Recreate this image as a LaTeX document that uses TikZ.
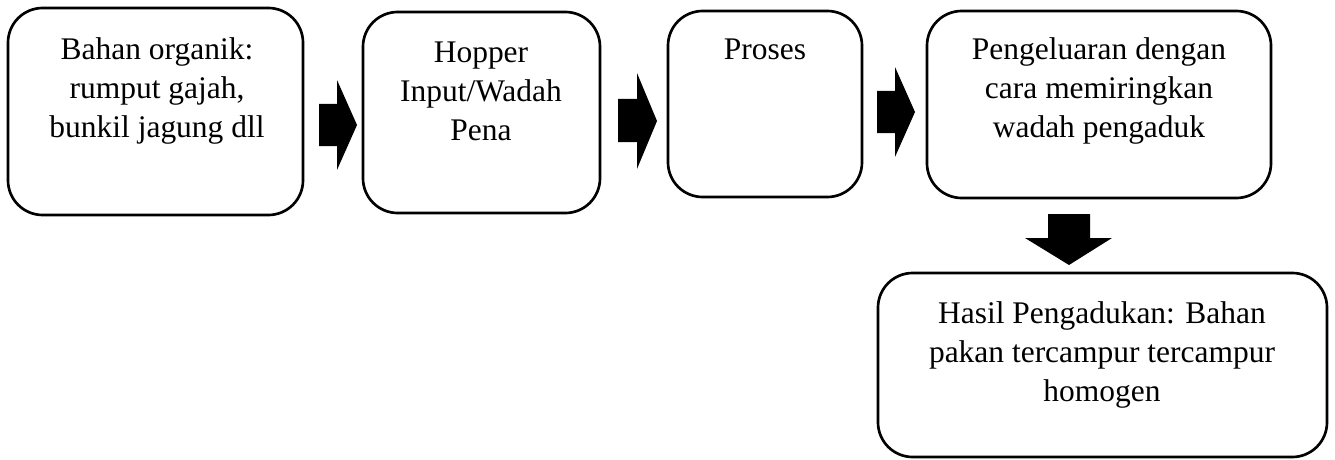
\documentclass[tikz,border=0pt]{standalone}
\usepackage{fontspec}
\setmainfont{Liberation Serif}
\usetikzlibrary{fit}
\begin{document}
\begin{tikzpicture}[x=0.75pt,y=-0.75pt,
  box/.style={draw=black, line width=2pt, rounded corners=26pt, inner sep=0pt},
  txt/.style={font=\fontsize{23.6pt}{29.25pt}\selectfont, align=flush center, anchor=base, inner sep=0pt, text width=330pt},
  barrow/.style={fill=black, draw=none}]
\useasboundingbox (0,0) rectangle (1335,460);
% boxes
\node[box, fit={(8,8) (303,215)}] (b1) {};
\node[box, fit={(363,12) (600,213)}] (b2) {};
\node[box, fit={(668,11) (862,197)}] (b3) {};
\node[box, fit={(927,11) (1271,198)}] (b4) {};
\node[box, fit={(878,273) (1327,457)}] (b5) {};
% texts
\node[txt] (t1) at (157,60) {Bahan organik:\\rumput gajah,\\bunkil jagung dll};
\node[txt] (t2) at (481,63) {Hopper\\Input/Wadah\\Pena};
\node[txt] (t3) at (765,60) {Proses};
\node[txt] (t4) at (1099,60) {Pengeluaran dengan\\cara memiringkan\\wadah pengaduk};
\node[txt] (t5) at (1102,323) {Hasil Pengadukan: Bahan\\pakan tercampur tercampur\\homogen};
% block arrows
\fill[barrow] (319,104) -- (337,104) -- (337,80) -- (357,125) -- (337,170) -- (337,146) -- (319,146) -- cycle;
\fill[barrow] (618,99) -- (637,99) -- (637,73) -- (657,121) -- (637,169) -- (637,142) -- (618,142) -- cycle;
\fill[barrow] (877,91) -- (895,91) -- (895,67) -- (915,112) -- (895,157) -- (895,133) -- (877,133) -- cycle;
\fill[barrow] (1048,214) -- (1090,214) -- (1090,238) -- (1112,238) -- (1069,265) -- (1025,238) -- (1048,238) -- cycle;
\end{tikzpicture}
\end{document}
